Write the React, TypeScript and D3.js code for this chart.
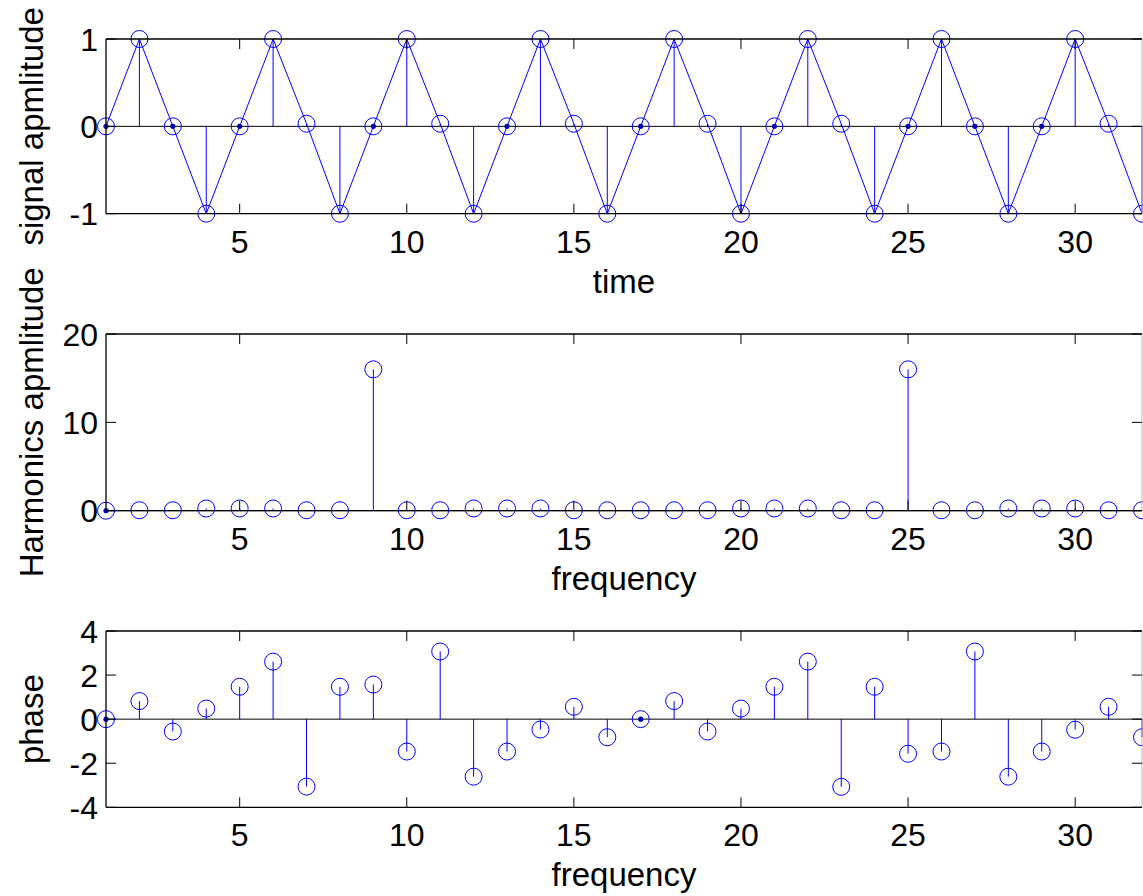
import React from "react";
import * as d3 from "d3";

// sample index 1..32
const samples = d3.range(1, 33);

// time signal (top panel)
const signal = [0, 1, 0, -1, 0, 1, 0.03, -1, 0, 1, 0.03, -1, 0, 1, 0.03, -1, 0, 1, 0.03, -1, 0, 1, 0.03, -1, 0, 1, 0, -1, 0, 1, 0.03, -1];

// harmonics magnitude (middle panel)
const harmonics = [0, 0.05, 0.05, 0.25, 0.25, 0.25, 0.05, 0.05, 16, 0.05, 0.05, 0.25, 0.25, 0.25, 0.05, 0.05, 0.05, 0.05, 0.05, 0.25, 0.25, 0.25, 0.05, 0.05, 16, 0.05, 0.05, 0.25, 0.25, 0.25, 0.05, 0.05];

// phase (bottom panel)
const phase = [0, 0.82, -0.56, 0.48, 1.47, 2.61, -3.06, 1.47, 1.57, -1.47, 3.07, -2.61, -1.47, -0.47, 0.56, -0.82, 0, 0.82, -0.56, 0.48, 1.47, 2.61, -3.07, 1.47, -1.57, -1.47, 3.07, -2.61, -1.47, -0.48, 0.56, -0.82];

const xTicks = [5, 10, 15, 20, 25, 30];
const signalTicks = [-1, 0, 1];
const harmonicTicks = [0, 10, 20];
const phaseTicks = [-4, -2, 0, 2, 4];

const W = 1143;
const H = 896;
const left = 106;
const right = 1142;
const blue = "#0000ff";
const font = "'Liberation Sans', Arial, Helvetica, sans-serif";

const x = d3.scaleLinear().domain([1, 32]).range([left, right]);

type PanelProps = {
  values: number[];
  domain: [number, number];
  yRange: [number, number];
  yTicks: number[];
  xLabel: string;
  yLabel: string;
  connect?: boolean;
};

const Panel = ({ values, domain, yRange, yTicks, xLabel, yLabel, connect }: PanelProps) => {
  const y = d3.scaleLinear().domain(domain).range(yRange);
  const top = yRange[1];
  const bottom = yRange[0];
  const tick = 10;
  const pts = samples.map((s, i) => ({ s, v: values[i] }));
  const line = d3
    .line<{ s: number; v: number }>()
    .x((d) => x(d.s))
    .y((d) => y(d.v));

  return (
    <g>
      {/* stems */}
      {pts.map((d) => (
        <line key={"st" + d.s} x1={x(d.s)} x2={x(d.s)} y1={y(0)} y2={y(d.v)} stroke={blue} strokeWidth={1} />
      ))}
      {/* baseline */}
      <line x1={left} x2={right} y1={y(0)} y2={y(0)} stroke="#000" strokeWidth={1} />
      {connect && <path d={line(pts) || ""} fill="none" stroke={blue} strokeWidth={1} />}
      {/* markers */}
      {pts.map((d) => (
        <circle key={"c" + d.s} cx={x(d.s)} cy={y(d.v)} r={8.5} fill="none" stroke={blue} strokeWidth={1} />
      ))}
      {pts
        .filter((d) => d.v === 0)
        .map((d) => (
          <circle key={"dot" + d.s} cx={x(d.s)} cy={y(d.v)} r={2.6} fill="#0000b0" />
        ))}
      {/* axes box */}
      <line x1={left} x2={right} y1={top} y2={top} stroke="#000" strokeWidth={1.3} />
      <line x1={left} x2={right} y1={bottom} y2={bottom} stroke="#000" strokeWidth={1.3} />
      <line x1={left} x2={left} y1={top} y2={bottom} stroke="#000" strokeWidth={1.3} />
      <line x1={right} x2={right} y1={top} y2={bottom} stroke="#b8b8b8" strokeWidth={1} />
      {/* x ticks */}
      {xTicks.map((t) => (
        <g key={"xt" + t}>
          <line x1={x(t)} x2={x(t)} y1={bottom} y2={bottom - tick} stroke="#000" strokeWidth={1} />
          <line x1={x(t)} x2={x(t)} y1={top} y2={top + tick} stroke="#000" strokeWidth={1} />
          <text x={x(t)} y={bottom + 39} textAnchor="middle" fontSize={32} fontFamily={font} fill="#000">
            {t}
          </text>
        </g>
      ))}
      {/* y ticks */}
      {yTicks.map((t) => (
        <g key={"yt" + t}>
          <line x1={left} x2={left + tick} y1={y(t)} y2={y(t)} stroke="#000" strokeWidth={1} />
          <line x1={right - tick} x2={right} y1={y(t)} y2={y(t)} stroke="#000" strokeWidth={1} />
          <text x={98} y={y(t) + 11.5} textAnchor="end" fontSize={32} fontFamily={font} fill="#000">
            {t}
          </text>
        </g>
      ))}
      <text x={(left + right) / 2} y={bottom + 79} textAnchor="middle" fontSize={33} fontFamily={font} fill="#000">
        {xLabel}
      </text>
      <text
        transform={`translate(43,${(top + bottom) / 2}) rotate(-90)`}
        textAnchor="middle"
        fontSize={33}
        fontFamily={font}
        fill="#000"
      >
        {yLabel}
      </text>
    </g>
  );
};

const App = () => {
  return (
    <svg width={W} height={H} style={{ position: "absolute", left: 0, top: 0, background: "#fff" }}>
      <rect width={W} height={H} fill="#fff" />
      <Panel values={signal} domain={[-1, 1]} yRange={[213.7, 39]} yTicks={signalTicks} xLabel="time" yLabel="signal apmlitude" connect />
      <Panel values={harmonics} domain={[0, 20]} yRange={[510.7, 334]} yTicks={harmonicTicks} xLabel="frequency" yLabel="Harmonics apmlitude" />
      <Panel values={phase} domain={[-4, 4]} yRange={[807.3, 631]} yTicks={phaseTicks} xLabel="frequency" yLabel="phase" />
    </svg>
  );
};

export default App;
